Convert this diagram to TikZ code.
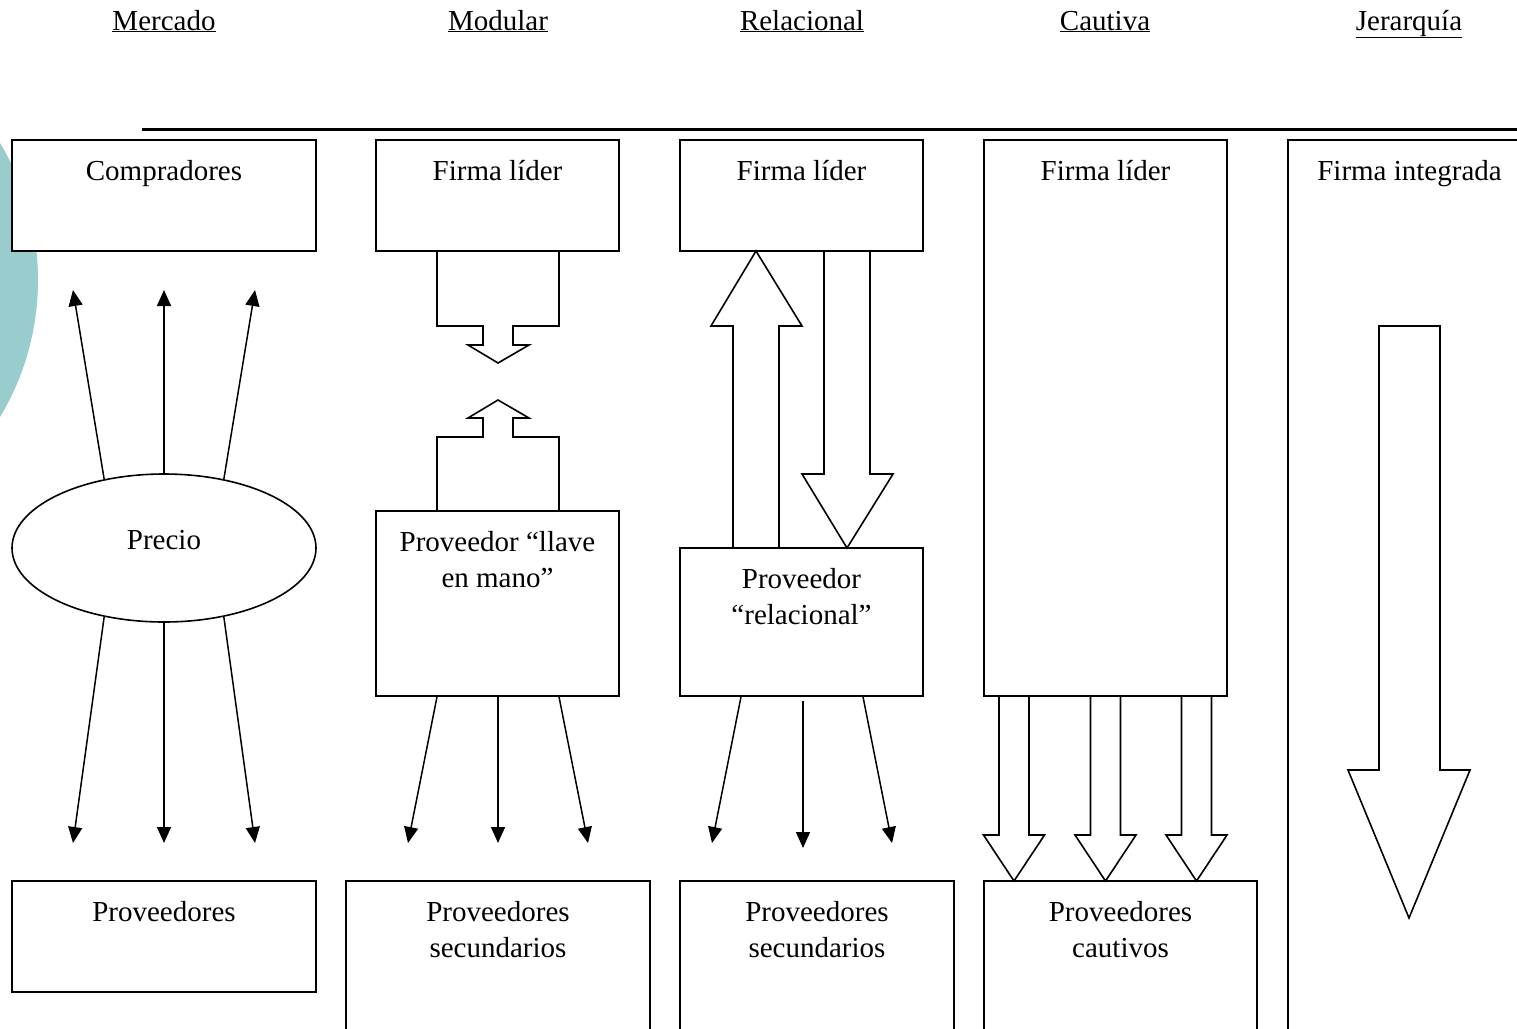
\documentclass[tikz,border=0pt]{standalone}
\usepackage{fontspec}
\setmainfont{Liberation Serif}
\usetikzlibrary{arrows.meta,shapes.geometric}

\definecolor{oval}{RGB}{153,204,204}
\tikzstyle{box}=[draw,line width=1.6pt,fill=white,rectangle,inner sep=0pt]
\tikzstyle{txt}=[anchor=north,align=center,inner sep=0pt,yshift=-21pt]
\tikzstyle{head}=[anchor=base,inner sep=0pt]
\tikzstyle{arr}=[line width=1.5pt,-{Triangle[length=16pt,width=14pt]}]
\tikzstyle{blk}=[draw,line width=1.6pt,line join=miter]

\begin{document}
\begin{tikzpicture}[x=1pt,y=-1pt,font=\fontsize{29}{35.5}\selectfont]
        \useasboundingbox (0,0) rectangle (1517,1028);
        \clip (0,0) rectangle (1517,1028);
        \fill[oval] (-228,280) circle (266pt);
        \draw[line width=3pt] (142,129) -- (1517,129);
        % headings
        \node[head] (mer) at (164,30) {\underline{Mercado}};
        \node[head] (mod) at (498,30) {\underline{Modular}};
        \node[head] (rel) at (802,30) {\underline{Relacional}};
        \node[head] (cau) at (1105,30) {\underline{Cautiva}};
        \node[head] (jer) at (1409,30) {\underline{Jerarquía}};
        % top row
        \node[box,minimum width=304pt,minimum height=111pt] (comp) at (164,195.5) {};
        \node[box,minimum width=243pt,minimum height=111pt] (lider1) at (497.5,195.5) {};
        \node[box,minimum width=243pt,minimum height=111pt] (lider2) at (801.5,195.5) {};
        \node[box,minimum width=243pt,minimum height=556pt] (lider3) at (1105.5,418) {};
        \node[box,minimum width=243pt,minimum height=900pt] (integ) at (1409.5,590) {};
        \node[txt] (compt) at (comp.north) {Compradores};
        \node[txt] (lider1t) at (lider1.north) {Firma líder};
        \node[txt] (lider2t) at (lider2.north) {Firma líder};
        \node[txt] (lider3t) at (lider3.north) {Firma líder};
        \node[txt] (integt) at (integ.north) {Firma integrada};
        % middle row
        \node[draw,ellipse,line width=1.6pt,fill=white,inner sep=0pt,text depth=16pt,
              minimum width=304pt,minimum height=148pt] (precio) at (164,548) {Precio};
        \node[box,minimum width=243pt,minimum height=185pt] (llave) at (497.5,603.5) {};
        \node[box,minimum width=243pt,minimum height=148pt] (relac) at (801.5,622) {};
        \node[txt] (llavet) at (llave.north) {Proveedor “llave\\en mano”};
        \node[txt] (relact) at (relac.north) {Proveedor\\“relacional”};
        % bottom row
        \node[box,minimum width=304pt,minimum height=111pt] (prov) at (164,936.5) {};
        \node[box,minimum width=304pt,minimum height=159pt] (sec1) at (498,960.5) {};
        \node[box,minimum width=274pt,minimum height=159pt] (sec2) at (817,960.5) {};
        \node[box,minimum width=273pt,minimum height=159pt] (cautivos) at (1120.5,960.5) {};
        \node[txt] (provt) at (prov.north) {Proveedores};
        \node[txt] (sec1t) at (sec1.north) {Proveedores\\secundarios};
        \node[txt] (sec2t) at (sec2.north) {Proveedores\\secundarios};
        \node[txt] (cautivost) at (cautivos.north) {Proveedores\\cautivos};
        % arrow ends
        \coordinate (u1) at (73,290);
        \coordinate (u2) at (164,290);
        \coordinate (u3) at (255,290);
        \coordinate (d1) at (73,843);
        \coordinate (d2) at (164,843);
        \coordinate (d3) at (255,843);
        \coordinate (m1) at (408,843);
        \coordinate (m2) at (498,843);
        \coordinate (m3) at (588,843);
        \coordinate (r1) at (712,843);
        \coordinate (r2) at (803,848);
        \coordinate (r3) at (892,843);
        % mercado
        \draw[arr] (precio.131) -- (u1);
        \draw[arr] (precio.north) -- (u2);
        \draw[arr] (precio.49) -- (u3);
        \draw[arr] (precio.-131) -- (d1);
        \draw[arr] (precio.south) -- (d2);
        \draw[arr] (precio.-49) -- (d3);
        % modular
        \draw[arr] ([xshift=-60.5pt]llave.south) -- (m1);
        \draw[arr] ([xshift=0.5pt]llave.south) -- (m2);
        \draw[arr] ([xshift=61.5pt]llave.south) -- (m3);
        \draw[blk] (437,251) -- (437,326) -- (483,326) -- (483,345) -- (468,345) -- (498,363)
            -- (529,345) -- (513,345) -- (513,326) -- (559,326) -- (559,251);
        \draw[blk] (437,511) -- (437,437) -- (483,437) -- (483,418) -- (468,418) -- (498,400)
            -- (529,418) -- (513,418) -- (513,437) -- (559,437) -- (559,511);
        % relacional
        \draw[arr] ([xshift=-60.5pt]relac.south) -- (r1);
        \draw[arr] ([xshift=1.5pt,yshift=-4pt]relac.south) -- (r2);
        \draw[arr] ([xshift=61.5pt]relac.south) -- (r3);
        \draw[blk] (733,548) -- (733,326) -- (711,326) -- (756,251) -- (802,326) -- (779,326) -- (779,548);
        \draw[blk] (824,251) -- (824,474) -- (802,474) -- (847,548) -- (893,474) -- (870,474) -- (870,251);
        % cautiva
        \foreach \c in {1014,1105.5,1196.5}
            \draw[blk] (\c-15,696) -- (\c-15,835) -- (\c-30.5,835) -- (\c,881)
                -- (\c+30.5,835) -- (\c+15,835) -- (\c+15,696);
        % jerarquia
        \draw[blk] (1379,326) -- (1379,770) -- (1348,770) -- (1409,918) -- (1470,770)
            -- (1440,770) -- (1440,326) -- cycle;
    \end{tikzpicture}
\end{document}
